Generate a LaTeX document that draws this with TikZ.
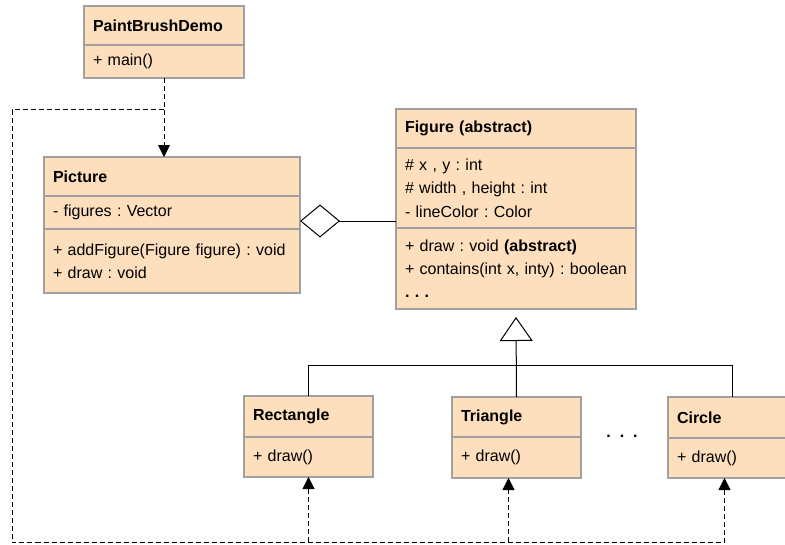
\documentclass[tikz,border=0pt]{standalone}
\usepackage{fontspec}
\setmainfont{Liberation Sans}
\frenchspacing
\usetikzlibrary{arrows.meta, positioning, shapes.geometric}
\definecolor{classfill}{RGB}{253,222,189}
\definecolor{classline}{RGB}{160,160,160}

\begin{document}
\begin{tikzpicture}[x=1pt, y=-1pt,
  classpart/.style={draw=classline, line width=1.3pt, fill=classfill, rectangle,
    inner xsep=9pt, inner ysep=0pt, outer sep=0pt, align=left,
    font=\fontsize{16}{23.3}\selectfont},
  classhead/.style={classpart, font=\fontsize{16}{23.3}\selectfont\bfseries},
  depend/.style={draw=black, line width=1pt, dash pattern=on 5pt off 3pt,
    -{Triangle[width=12pt, length=12pt]}},
  aggr/.style={draw=black, line width=1pt, -{Diamond[fill=white, width=33pt, length=40pt]}},
  inherit/.style={draw=black, line width=1pt, -{Triangle[fill=white, width=33pt, length=24pt]}},
  link/.style={draw=black, line width=1pt}]
\useasboundingbox (0,0) rectangle (785,544);

% main class
\node[classhead, text width=142pt, minimum width=160pt, minimum height=39pt] (demo) at (164,25.5) {PaintBrushDemo};
\node[classpart, text width=142pt, minimum width=160pt, minimum height=33pt, below=0pt of demo] (demoops) {+ main()};

% picture
\node[classhead, text width=238pt, minimum width=256pt, minimum height=39pt] (picture) at (172,176.5) {Picture};
\node[classpart, text width=238pt, minimum width=256pt, minimum height=33pt, below=0pt of picture] (picattrs) {- figures : Vector};
\node[classpart, text width=238pt, minimum width=256pt, minimum height=64pt, below=0pt of picattrs] (picops) {+ addFigure(Figure figure) : void\\+ draw : void};

% figure
\node[classhead, text width=222pt, minimum width=240pt, minimum height=39pt] (figure) at (516,128.5) {Figure (abstract)};
\node[classpart, text width=222pt, minimum width=240pt, minimum height=80pt, below=0pt of figure] (figattrs) {\# x , y : int\\\# width , height : int\\- lineColor : Color};
\node[classpart, text width=222pt, minimum width=240pt, minimum height=81pt, below=0pt of figattrs] (figops) {+ draw : void \textbf{(abstract)}\\+ contains(int x, inty) : boolean\\\textbf{.\,\,.\,\,.}};

% subclasses
\node[classhead, text width=111pt, minimum width=129pt, minimum height=41pt] (rect) at (308.5,416.5) {Rectangle};
\node[classpart, text width=111pt, minimum width=129pt, minimum height=40pt, below=0pt of rect] (rectops) {+ draw()};
\node[classhead, text width=111pt, minimum width=129pt, minimum height=40pt] (tri) at (516.5,417) {Triangle};
\node[classpart, text width=111pt, minimum width=129pt, minimum height=41pt, below=0pt of tri] (triops) {+ draw()};
\node[classhead, text width=111pt, minimum width=129pt, minimum height=41pt] (circ) at (732.5,417.5) {Circle};
\node[classpart, text width=111pt, minimum width=129pt, minimum height=40pt, below=0pt of circ] (circops) {+ draw()};
\node[font=\fontsize{16}{20}\selectfont\bfseries] (more) at (622,436) {.~~.~~.};

% aggregation and inheritance
\draw[aggr] ([yshift=-33pt]figattrs.west) -- ([yshift=8pt]picops.north east);
\draw[link] (rect.north) -- ++(0,-31) -| (circ.north);
\draw[inherit] (tri.north) -- ([yshift=-8pt]figops.south);

% dependencies
\coordinate (topleft) at (12,109.5);
\coordinate (botleft) at (12,542);
\draw[depend] (demoops.south) -- (demoops.south |- picture.north);
\draw[depend] (demoops.south |- topleft) -- (topleft) -- (botleft) -| ([xshift=-8pt]circops.south);
\draw[depend] (rectops.south |- botleft) -- (rectops.south);
\draw[depend] ([xshift=-8pt]triops.south |- botleft) -- ([xshift=-8pt]triops.south);
\end{tikzpicture}
\end{document}
